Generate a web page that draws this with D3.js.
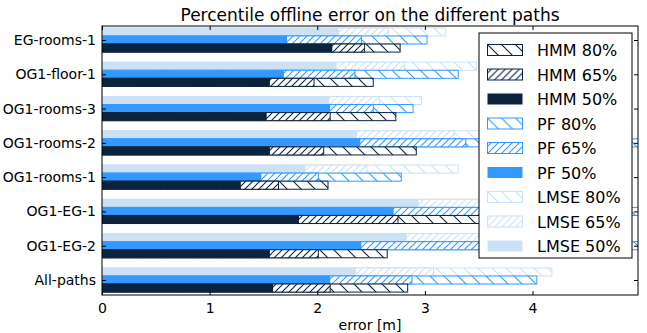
<!DOCTYPE html>
<html>
<head>
<meta charset="utf-8">
<script src="https://cdn.jsdelivr.net/npm/d3@7"></script>
<style>
  body { margin: 0; background: #fff; }
  svg { display: block; font-family: "DejaVu Sans", sans-serif; }
</style>
</head>
<body>
<div class="js-container"></div>
<script>
;(function() {
  'use strict';

  var categories = ['EG-rooms-1', 'OG1-floor-1', 'OG1-rooms-3', 'OG1-rooms-2',
                    'OG1-rooms-1', 'OG1-EG-1', 'OG1-EG-2', 'All-paths'];

  // percentile errors in metres, one value per category
  var hmm50  = [2.14, 1.56, 1.53, 1.56, 1.29, 1.83, 1.56, 1.59];
  var hmm65  = [2.44, 1.97, 2.12, 2.06, 1.64, 2.75, 2.01, 2.12];
  var hmm80  = [2.77, 2.52, 2.73, 2.92, 2.10, 3.80, 2.65, 2.84];
  var pf50   = [1.72, 1.69, 2.12, 2.40, 1.48, 2.71, 2.41, 2.12];
  var pf65   = [2.41, 2.35, 2.52, 3.38, 2.01, 4.30, 4.10, 2.88];
  var pf80   = [3.02, 3.31, 2.89, 5.30, 2.78, 5.60, 5.40, 4.04];
  var lmse50 = [2.20, 2.18, 2.11, 2.37, 1.89, 2.94, 2.83, 2.36];
  var lmse65 = [2.66, 2.81, 2.58, 3.27, 2.46, 3.90, 3.80, 3.08];
  var lmse80 = [3.19, 3.48, 2.97, 4.60, 3.31, 4.80, 4.70, 4.18];

  var xTicks = [0, 1, 2, 3, 4];

  var W = 647, H = 333;
  var left = 102, right = 638, top = 26, bottom = 295;

  var colors = { HMM: '#0c233d', PF: '#3399ff', LMSE: '#cde1f5' };

  // each method has three overlapping bars, drawn back (80%) to front (50%)
  var methods = [
    { name: 'LMSE', offset: -1, levels: [lmse80, lmse65, lmse50] },
    { name: 'PF',   offset:  0, levels: [pf80, pf65, pf50] },
    { name: 'HMM',  offset:  1, levels: [hmm80, hmm65, hmm50] }
  ];
  var levelNames = ['80%', '65%', '50%'];

  var svg = d3.select('.js-container').append('svg')
              .attr('width', W)
              .attr('height', H);

  var defs = svg.append('defs');

  /**
   * Hatch pattern: kind '/' (dense) or '\' (sparse), in the given colour.
   */
  function addHatch(id, kind, color) {
    var s = kind === '/' ? 7 : 14;
    var p = defs.append('pattern')
                .attr('id', id)
                .attr('patternUnits', 'userSpaceOnUse')
                .attr('width', s)
                .attr('height', s);
    p.append('rect').attr('width', s).attr('height', s).attr('fill', '#fff');
    var d = kind === '/'
      ? 'M0,' + s + 'L' + s + ',0M-2,2L2,-2M' + (s - 2) + ',' + (s + 2) + 'L' + (s + 2) + ',' + (s - 2)
      : 'M0,0L' + s + ',' + s + 'M-2,' + (s - 2) + 'L2,' + (s + 2) + 'M' + (s - 2) + ',-2L' + (s + 2) + ',2';
    p.append('path').attr('d', d).attr('stroke', color).attr('stroke-width', 1.1);
  }

  function fillFor(method, li) {
    if (li === 2) return colors[method];
    return 'url(#h-' + method + '-' + li + ')';
  }

  Object.keys(colors).forEach(function(m) {
    addHatch('h-' + m + '-0', '\\', colors[m]);
    addHatch('h-' + m + '-1', '/', colors[m]);
  });

  defs.append('clipPath').attr('id', 'plot-clip')
      .append('rect')
      .attr('x', left).attr('y', top)
      .attr('width', right - left).attr('height', bottom - top);

  var x = d3.scaleLinear().domain([0, 4.98]).range([left, right]);
  var y = d3.scalePoint().domain(categories).range([40, 280]);
  var barH = y.step() * 0.235;

  var plot = svg.append('g').attr('clip-path', 'url(#plot-clip)');

  methods.forEach(function(m) {
    m.levels.forEach(function(vals, li) {
      plot.selectAll(null)
          .data(vals)
          .enter().append('rect')
          .attr('x', x(0))
          .attr('y', function(d, i) { return y(categories[i]) + m.offset * barH - barH / 2; })
          .attr('width', function(d) { return x(d) - x(0); })
          .attr('height', barH)
          .attr('fill', fillFor(m.name, li))
          .attr('stroke', li === 2 ? 'none' : colors[m.name])
          .attr('stroke-width', 1);
    });
  });

  // axes with inward ticks on all four sides
  var tickLen = 4;
  svg.append('g')
      .attr('transform', 'translate(0,' + bottom + ')')
      .call(d3.axisBottom(x).tickValues(xTicks).tickFormat(d3.format('d'))
              .tickSize(-tickLen).tickPadding(8))
      .call(styleAxis);
  svg.append('g')
      .attr('transform', 'translate(0,' + top + ')')
      .call(d3.axisTop(x).tickValues(xTicks).tickSize(-tickLen).tickFormat(''))
      .call(styleAxis);
  svg.append('g')
      .attr('transform', 'translate(' + left + ',0)')
      .call(d3.axisLeft(y).tickSize(-tickLen).tickPadding(6))
      .call(styleAxis);
  svg.append('g')
      .attr('transform', 'translate(' + right + ',0)')
      .call(d3.axisRight(y).tickSize(-tickLen).tickFormat(''))
      .call(styleAxis);

  function styleAxis(g) {
    g.select('.domain').remove();
    g.selectAll('.tick line').attr('stroke', '#000');
    g.selectAll('.tick text').attr('font-size', 14).attr('fill', '#000')
        .attr('font-family', '"DejaVu Sans", sans-serif');
  }

  svg.append('rect')
      .attr('x', left).attr('y', top)
      .attr('width', right - left).attr('height', bottom - top)
      .attr('fill', 'none').attr('stroke', '#000').attr('stroke-width', 1);

  svg.append('text')
      .attr('x', (left + right) / 2).attr('y', 21)
      .attr('text-anchor', 'middle')
      .attr('font-size', 17)
      .text('Percentile offline error on the different paths');

  svg.append('text')
      .attr('x', (left + right) / 2).attr('y', 330)
      .attr('text-anchor', 'middle')
      .attr('font-size', 14)
      .text('error [m]');

  // legend, top to bottom: HMM, PF, LMSE with 80 / 65 / 50
  var legendItems = [];
  ['HMM', 'PF', 'LMSE'].forEach(function(m) {
    levelNames.forEach(function(l, li) {
      legendItems.push({ method: m, li: li, label: m + ' ' + l });
    });
  });

  var lg = svg.append('g').attr('transform', 'translate(479,33)');
  lg.append('rect')
      .attr('width', 153).attr('height', 225)
      .attr('fill', '#fff').attr('stroke', '#000').attr('stroke-width', 1);

  var item = lg.selectAll('.item')
      .data(legendItems)
      .enter().append('g')
      .attr('transform', function(d, i) { return 'translate(0,' + (17 + i * 24.5) + ')'; });

  item.append('rect')
      .attr('x', 8.5).attr('y', -5.5)
      .attr('width', 35).attr('height', 11)
      .attr('fill', function(d) { return fillFor(d.method, d.li); })
      .attr('stroke', function(d) { return d.li === 2 ? 'none' : colors[d.method]; });

  item.append('text')
      .attr('x', 58).attr('y', 6)
      .attr('font-size', 16)
      .text(function(d) { return d.label; });

}());
</script>
</body>
</html>
